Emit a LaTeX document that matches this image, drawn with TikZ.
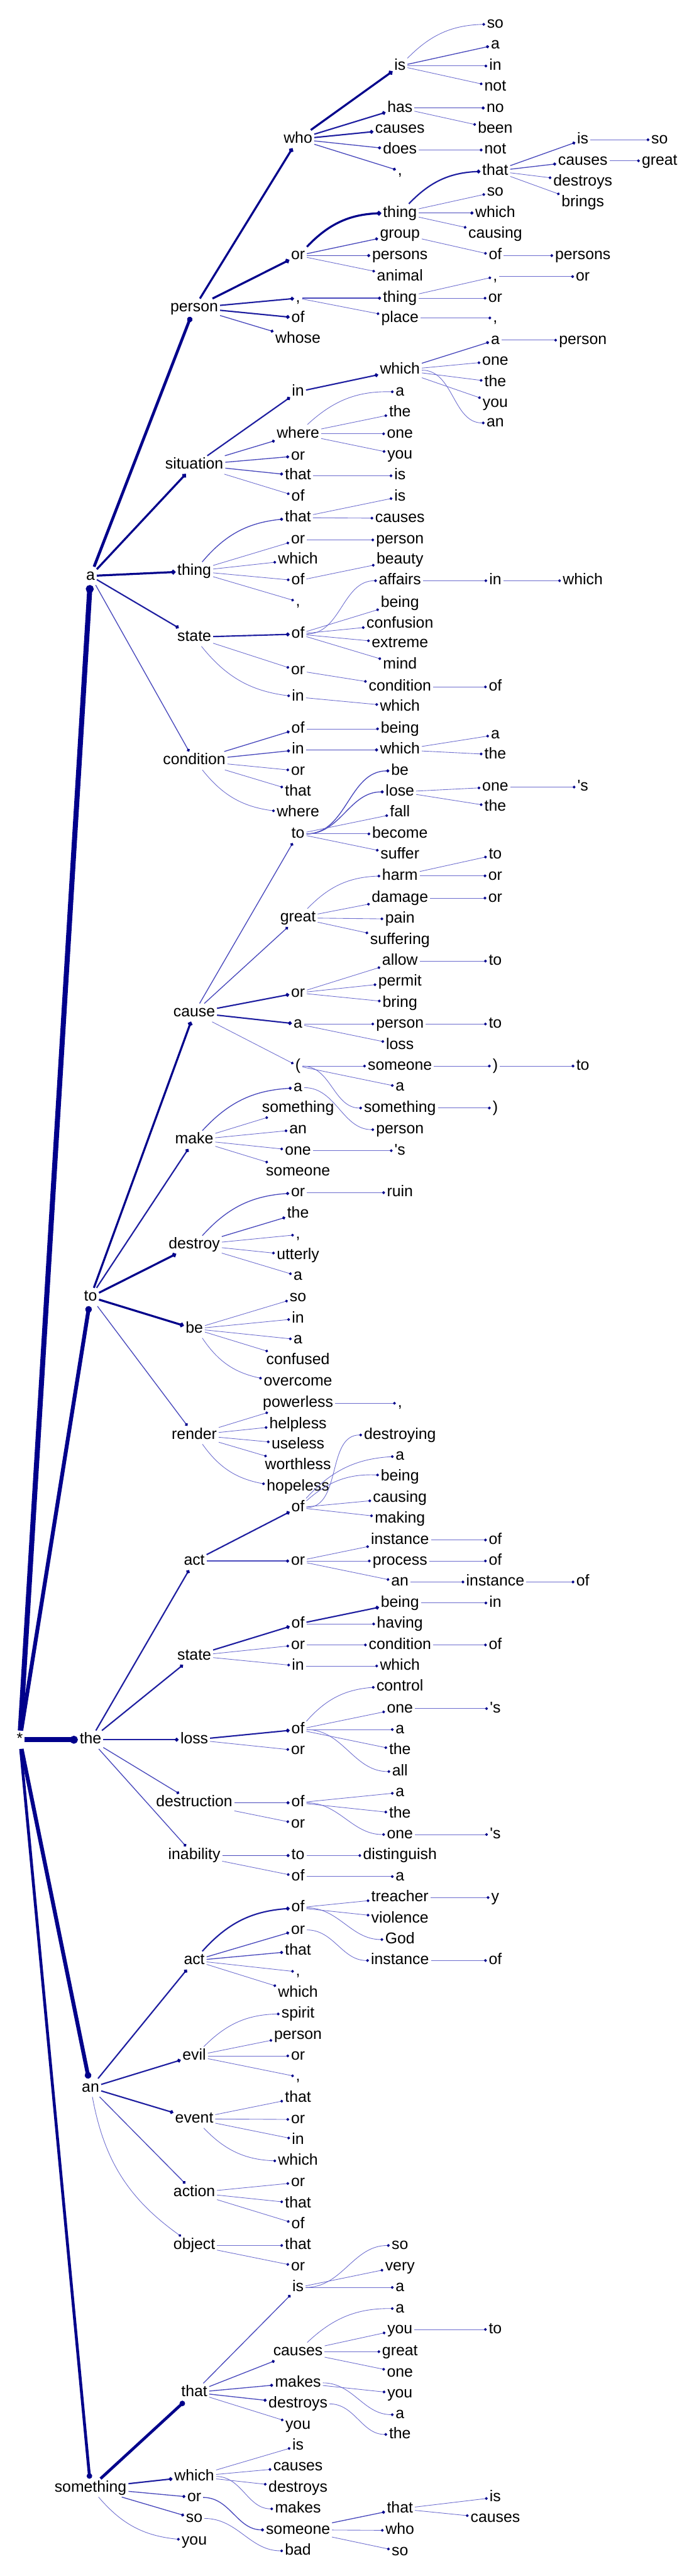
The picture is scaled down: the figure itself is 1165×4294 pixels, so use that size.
\documentclass[tikz,border=0pt]{standalone}
\usepackage{fontspec}
\setmainfont{Liberation Sans}
\usetikzlibrary{arrows.meta}
\definecolor{dotc}{RGB}{0,0,139}
\definecolor{lkA}{RGB}{108,108,206}
\definecolor{lkB}{RGB}{72,72,188}
\definecolor{lkC}{RGB}{30,30,160}
\definecolor{lkD}{RGB}{0,0,139}
\tikzset{
  wd/.style={font=\fontsize{18.5pt}{20pt}\selectfont, inner xsep=2.1pt, inner ysep=5.9pt,
    text height=9.6pt, text depth=0pt, anchor=center},
  lk/.style={-{Circle[length=2.6pt 1.1,color=dotc]}},
  w1/.style={lk, line width=.65pt, draw=lkA},
  w2/.style={lk, line width=1pt, draw=lkB},
  w3/.style={lk, line width=1.6pt, draw=lkC},
  w4/.style={lk, line width=2.4pt, draw=lkD},
  w5/.style={lk, line width=3.4pt, draw=lkD},
  w6/.style={lk, line width=4.6pt, draw=lkD},
  w7/.style={lk, line width=6pt, draw=lkD},
  st/.style={}, bl/.style={bend left=22}, br/.style={bend right=22}, sc/.style={out=0,in=180}
}
% children of one word: name/y/text/weight/curve
\newcommand\grow[3]{\foreach \nm/\yy/\tx/\ws/\cv in {#3} {%
  \node[wd] (#1-\nm) at (#2,\yy) {\tx}; \draw[\ws,\cv] (#1) to (#1-\nm);}}
\begin{document}
\begin{tikzpicture}[x=.25mm,y=-.25mm]
  \useasboundingbox (0,0) rectangle (1165,4294);
  \node[wd] (star) at (33,2900) {*};
  \node[wd] (a) at (151,960) {a}; \node[wd] (to) at (151,2162) {to}; \node[wd] (the) at (151,2900) {the};
  \node[wd] (an) at (151,3480) {an}; \node[wd] (sth) at (151,4147) {something};
  \draw[w7] (star) to (a); \draw[w6] (star) to (to); \draw[w7] (star) to (the);
  \draw[w6] (star) to (an); \draw[w5] (star) to (sth);
  % a ...
  \grow{a}{324}{person/513/person/w5/st, sit/775/situation/w4/st, thing/952/thing/w4/st, state/1062/state/w3/st, cond/1268/condition/w2/st}
  \grow{a-person}{497}{who/232/who/w4/st, or/426/or/w4/st, cm/497/{,}/w3/st, of/530/of/w3/st, whose/565/whose/w2/st}
  \grow{a-person-who}{667}{is/110/is/w4/st, has/180/has/w3/st, causes/215/causes/w3/st, does/250/does/w2/st, cm/285/{,}/w2/st}
  \grow{a-person-who-is}{826}{so/40/so/w1/bl, a/75/a/w2/st, in/110/in/w1/st, not/145/not/w1/st}
  \grow{a-person-who-has}{826}{no/180/no/w2/st, been/215/been/w1/st}
  \grow{a-person-who-does}{826}{not/250/not/w1/st}
  \grow{a-person-or}{667}{thing/355/thing/w4/bl, group/390/group/w2/st, persons/426/persons/w2/st, animal/461/animal/w1/st}
  \grow{a-person-or-thing}{826}{that/285/that/w3/bl, so/320/so/w1/st, which/355/which/w2/st, causing/390/causing/w1/st}
  \grow{a-person-or-thing-that}{972}{is/233/is/w2/st, causes/268/causes/w2/st, destroys/303/destroys/w1/st, brings/338/brings/w1/st}
  \grow{a-person-or-thing-that-is}{1100}{so/233/so/w1/st}
  \grow{a-person-or-thing-that-causes}{1100}{great/268/great/w1/st}
  \grow{a-person-or-group}{826}{of/426/of/w1/st}
  \grow{a-person-or-group-of}{972}{persons/426/persons/w1/st}
  \grow{a-person-cm}{667}{thing/497/thing/w2/st, place/530/place/w1/st}
  \grow{a-person-cm-thing}{826}{cm/461/{,}/w1/st, or/497/or/w1/st}
  \grow{a-person-cm-thing-cm}{972}{or/461/or/w1/st}
  \grow{a-person-cm-place}{826}{cm/530/{,}/w1/st}
  \grow{a-sit}{497}{in/653/in/w3/st, where/723/where/w2/st, or/760/or/w2/st, that/793/that/w2/st, of/828/of/w1/st}
  \grow{a-sit-in}{667}{which/617/which/w3/st}
  \grow{a-sit-in-which}{826}{a/567/a/w2/st, one/602/one/w1/st, the/637/the/w1/st, you/672/you/w1/st, an/705/an/w1/sc}
  \grow{a-sit-in-which-a}{972}{person/567/person/w1/st}
  \grow{a-sit-where}{667}{a/653/a/w1/bl, the/688/the/w1/st, one/723/one/w1/st, you/758/you/w1/st}
  \grow{a-sit-that}{667}{is/793/is/w1/st}
  \grow{a-thing}{497}{that/863/that/w2/bl, or/900/or/w1/st, which/933/which/w1/st, of/968/of/w1/st, cm/1003/{,}/w1/st}
  \grow{a-thing-that}{667}{is/828/is/w1/st, causes/864/causes/w1/st}
  \grow{a-thing-or}{667}{person/900/person/w1/st}
  \grow{a-thing-of}{667}{beauty/933/beauty/w1/st}
  \grow{a-state}{497}{of/1057/of/w3/st, or/1118/or/w1/st, in/1162/in/w1/br}
  \grow{a-state-of}{667}{affairs/968/affairs/w1/sc, being/1005/being/w1/st, confusion/1040/confusion/w1/st, extreme/1073/extreme/w1/st, mind/1108/mind/w1/st}
  \grow{a-state-of-affairs}{826}{in/968/in/w1/st}
  \grow{a-state-of-affairs-in}{972}{which/968/which/w1/st}
  \grow{a-state-or}{667}{condition/1145/condition/w1/st}
  \grow{a-state-or-condition}{826}{of/1145/of/w1/st}
  \grow{a-state-in}{667}{which/1178/which/w1/st}
  \grow{a-cond}{497}{of/1215/of/w2/st, in/1250/in/w2/st, or/1285/or/w1/st, that/1320/that/w1/st, where/1355/where/w1/br}
  \grow{a-cond-of}{667}{being/1215/being/w1/st}
  \grow{a-cond-in}{667}{which/1250/which/w2/st}
  \grow{a-cond-in-which}{826}{a/1225/a/w1/st, the/1258/the/w1/st}
  % to ...
  \grow{to}{324}{cause/1688/cause/w4/st, make/1900/make/w3/st, destroy/2075/destroy/w4/st, be/2215/be/w4/st, render/2392/render/w2/st}
  \grow{to-cause}{497}{to/1390/to/w2/st, great/1530/great/w2/st, or/1655/or/w3/st, a/1707/a/w3/st, lp/1777/{(}/w1/st}
  \grow{to-cause-to}{667}{be/1285/be/w2/sc, lose/1320/lose/w2/sc, fall/1355/fall/w1/st, become/1390/become/w1/st, suffer/1425/suffer/w1/st}
  \grow{to-cause-to-lose}{826}{one/1312/one/w1/st, the/1345/the/w1/st}
  \grow{to-cause-to-lose-one}{972}{s/1312/{\textquotesingle s}/w1/st}
  \grow{to-cause-great}{667}{harm/1460/harm/w1/bl, damage/1497/damage/w1/st, pain/1532/pain/w1/st, suffering/1567/suffering/w1/st}
  \grow{to-cause-great-harm}{826}{to/1425/to/w1/st, or/1460/or/w1/st}
  \grow{to-cause-great-damage}{826}{or/1497/or/w1/st}
  \grow{to-cause-or}{667}{allow/1602/allow/w1/st, permit/1637/permit/w1/st, bring/1672/bring/w1/st}
  \grow{to-cause-or-allow}{826}{to/1602/to/w1/st}
  \grow{to-cause-a}{667}{person/1707/person/w1/st, loss/1742/loss/w1/st}
  \grow{to-cause-a-person}{826}{to/1707/to/w1/st}
  \grow{to-cause-lp}{667}{someone/1777/someone/w1/st, a/1812/a/w1/st, something/1847/something/w1/sc}
  \grow{to-cause-lp-someone}{826}{rp/1777/{)}/w1/st}
  \grow{to-cause-lp-someone-rp}{972}{to/1777/to/w1/st}
  \grow{to-cause-lp-something}{826}{rp/1847/{)}/w1/st}
  \grow{to-make}{497}{a/1813/a/w2/bl, something/1847/something/w1/st, an/1883/an/w1/st, one/1918/one/w1/st, someone/1953/someone/w1/st}
  \grow{to-make-a}{667}{person/1883/person/w1/sc}
  \grow{to-make-one}{667}{s/1918/{\textquotesingle s}/w1/st}
  \grow{to-destroy}{497}{or/1988/or/w2/bl, the/2023/the/w2/st, cm/2058/{,}/w1/st, utterly/2093/utterly/w1/st, a/2127/a/w1/st}
  \grow{to-destroy-or}{667}{ruin/1988/ruin/w1/st}
  \grow{to-be}{497}{so/2163/so/w1/st, in/2198/in/w1/st, a/2233/a/w1/st, confused/2268/confused/w1/st, overcome/2303/overcome/w1/br}
  \grow{to-render}{497}{powerless/2339/powerless/w1/st, helpless/2374/helpless/w1/st, useless/2408/useless/w1/st, worthless/2443/worthless/w1/st, hopeless/2478/hopeless/w1/br}
  \grow{to-render-powerless}{667}{cm/2339/{,}/w1/st}
  % the ...
  \grow{the}{324}{act/2602/act/w3/st, state/2760/state/w3/st, loss/2900/loss/w3/st, destr/3005/destruction/w2/st, inab/3093/inability/w2/st}
  \grow{the-act}{497}{of/2513/of/w3/st, or/2602/or/w2/st}
  \grow{the-act-of}{667}{destroying/2392/destroying/w1/sc, a/2427/a/w1/bl, being/2462/being/w1/bl, causing/2497/causing/w1/st, making/2532/making/w1/st}
  \grow{the-act-or}{667}{instance/2567/instance/w1/st, process/2602/process/w1/st, an/2637/an/w1/st}
  \grow{the-act-or-instance}{826}{of/2567/of/w1/st}
  \grow{the-act-or-process}{826}{of/2602/of/w1/st}
  \grow{the-act-or-an}{826}{instance/2637/instance/w1/st}
  \grow{the-act-or-an-instance}{972}{of/2637/of/w1/st}
  \grow{the-state}{497}{of/2707/of/w3/st, or/2742/or/w1/st, in/2777/in/w1/st}
  \grow{the-state-of}{667}{being/2672/being/w3/st, having/2707/having/w1/st}
  \grow{the-state-of-being}{826}{in/2672/in/w1/st}
  \grow{the-state-or}{667}{condition/2742/condition/w1/st}
  \grow{the-state-or-condition}{826}{of/2742/of/w1/st}
  \grow{the-state-in}{667}{which/2777/which/w1/st}
  \grow{the-loss}{497}{of/2883/of/w3/st, or/2918/or/w1/st}
  \grow{the-loss-of}{667}{control/2812/control/w1/bl, one/2848/one/w1/st, a/2883/a/w1/st, the/2918/the/w1/st, all/2953/all/w1/sc}
  \grow{the-loss-of-one}{826}{s/2848/{\textquotesingle s}/w1/st}
  \grow{the-destr}{497}{of/3005/of/w2/st, or/3040/or/w1/st}
  \grow{the-destr-of}{667}{a/2988/a/w1/st, the/3023/the/w1/st, one/3058/one/w1/sc}
  \grow{the-destr-of-one}{826}{s/3058/{\textquotesingle s}/w1/st}
  \grow{the-inab}{497}{to/3093/to/w2/st, of/3128/of/w1/st}
  \grow{the-inab-to}{667}{distinguish/3093/distinguish/w1/st}
  \grow{the-inab-of}{667}{a/3128/a/w1/st}
  % an ...
  \grow{an}{324}{act/3268/act/w3/st, evil/3427/evil/w3/st, event/3532/event/w3/st, action/3655/action/w2/st, object/3743/object/w1/br}
  \grow{an-act}{497}{of/3180/of/w3/bl, or/3217/or/w2/st, that/3252/that/w2/st, cm/3287/{,}/w1/st, which/3322/which/w1/st}
  \grow{an-act-of}{667}{treacher/3163/treacher/w1/st, violence/3198/violence/w1/st, God/3233/God/w1/sc}
  \grow{an-act-of-treacher}{826}{y/3163/y/w1/st}
  \grow{an-act-or}{667}{instance/3268/instance/w1/sc}
  \grow{an-act-or-instance}{826}{of/3268/of/w1/st}
  \grow{an-evil}{497}{spirit/3357/spirit/w1/bl, person/3392/person/w1/st, or/3427/or/w1/st, cm/3462/{,}/w1/st}
  \grow{an-event}{497}{that/3497/that/w1/st, or/3533/or/w1/st, in/3567/in/w1/st, which/3602/which/w1/br}
  \grow{an-action}{497}{or/3638/or/w1/st, that/3673/that/w1/st, of/3708/of/w1/st}
  \grow{an-object}{497}{that/3743/that/w1/st, or/3778/or/w1/st}
  % something ...
  \grow{sth}{324}{that/3988/that/w5/st, which/4128/which/w3/st, or/4163/or/w2/st, so/4198/so/w2/st, you/4235/you/w1/br}
  \grow{sth-that}{497}{is/3813/is/w2/st, causes/3920/causes/w2/st, makes/3972/makes/w2/st, destroys/4007/destroys/w2/st, you/4042/you/w1/st}
  \grow{sth-that-is}{667}{so/3743/so/w1/sc, very/3778/very/w1/st, a/3813/a/w1/st}
  \grow{sth-that-causes}{667}{a/3848/a/w1/bl, you/3883/you/w1/st, great/3920/great/w1/st, one/3955/one/w1/st}
  \grow{sth-that-causes-you}{826}{to/3883/to/w1/st}
  \grow{sth-that-makes}{667}{you/3990/you/w1/st, a/4025/a/w1/sc}
  \grow{sth-that-destroys}{667}{the/4058/the/w1/sc}
  \grow{sth-which}{497}{is/4077/is/w1/st, causes/4112/causes/w1/st, destroys/4147/destroys/w1/st, makes/4182/makes/w1/sc}
  \grow{sth-or}{497}{someone/4217/someone/w2/sc}
  \grow{sth-or-someone}{667}{that/4182/that/w2/st, who/4218/who/w1/st, so/4253/so/w1/st}
  \grow{sth-or-someone-that}{826}{is/4163/is/w1/st, causes/4198/causes/w1/st}
  \grow{sth-so}{497}{bad/4252/bad/w1/sc}
\end{tikzpicture}
\end{document}
